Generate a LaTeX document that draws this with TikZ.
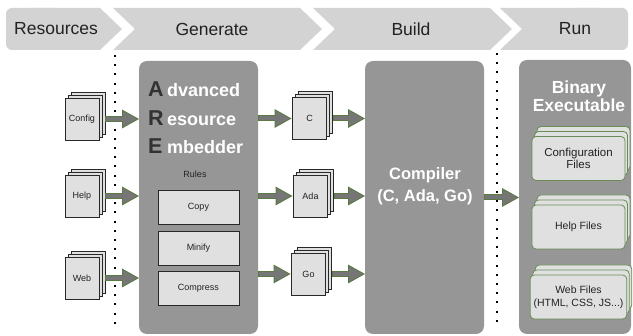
\documentclass[tikz,border=0pt]{standalone}
\usepackage{fontspec}
\setmainfont{Liberation Sans}
\usetikzlibrary{arrows.meta,shadows}

\definecolor{headgray}{RGB}{211,211,211}
\definecolor{boxgray}{RGB}{150,150,150}
\definecolor{docfill}{RGB}{224,224,224}
\definecolor{docline}{RGB}{40,40,40}
\definecolor{flowgreen}{RGB}{90,122,66}
\definecolor{flowgray}{RGB}{118,118,118}
\definecolor{filegreen}{RGB}{104,140,84}
\definecolor{textdark}{RGB}{34,34,34}
\definecolor{aredark}{RGB}{50,50,50}

\newcommand{\fsz}[1]{\fontsize{#1}{#1}\selectfont}
\newcommand{\areletter}[1]{\makebox[19pt][l]{\textcolor{aredark}{\fsz{21.5}#1}}}

\begin{document}
\begin{tikzpicture}[x=1pt, y=-1pt,
    head/.style={fill=headgray},
    headlabel/.style={font=\fsz{17.5}, text=textdark},
    doc/.style={draw=docline, fill=docfill, line width=0.8pt, minimum width=34, minimum height=42,
        inner sep=0, outer sep=0, font=\fsz{9}, text=textdark,
        double copy shadow={shadow xshift=3pt, shadow yshift=3pt, draw=docline, fill=docfill, line width=0.8pt}},
    rulebox/.style={draw=docline, fill=docfill, line width=0.8pt, minimum width=81, minimum height=34,
        font=\fsz{9}, text=textdark},
    bigbox/.style={fill=boxgray, rounded corners=8pt, inner sep=0, outer sep=0},
    arelabel/.style={font=\bfseries\fsz{18}, text=white, inner sep=0},
    binfile/.style={draw=filegreen, fill=docfill, line width=0.8pt, rounded corners=4pt,
        minimum width=93, minimum height=44, align=center, font=\fsz{10.5}, text=textdark,
        double copy shadow={shadow xshift=2.5pt, shadow yshift=5pt, draw=filegreen, fill=docfill, line width=0.8pt}},
    stage/.style={line width=2pt, dash pattern=on 2pt off 7.2pt},
    flow/.style={draw=flowgreen, line width=6pt, shorten <=#1,
        -{Triangle[length=17pt, width=19pt, line width=0pt]},
        postaction={draw=flowgray, line width=4pt, shorten <=#1+1pt, shorten >=2pt,
        -{Triangle[length=14pt, width=15.5pt, line width=0pt]}}},
    flow/.default=6pt]

    \useasboundingbox (0,0) rectangle (633,336);

    % Header
    \fill[head, rounded corners=6pt] (6,8) rectangle (60,50);
    \fill[head] (30,8) -- (100,8) -- (122,29) -- (100,50) -- (30,50) -- cycle;
    \fill[head] (113,8) -- (300,8) -- (322,29) -- (300,50) -- (113,50) -- (135,29) -- cycle;
    \fill[head] (313,8) -- (490,8) -- (512,29) -- (490,50) -- (313,50) -- (335,29) -- cycle;
    \fill[head] (500,8) -- (600,8) -- (600,50) -- (500,50) -- (522,29) -- cycle;
    \fill[head, rounded corners=6pt] (570,8) rectangle (628,50);

    \node[headlabel] (hres) at (56,29) {Resources};
    \node[headlabel] (hgen) at (212,29) {Generate};
    \node[headlabel] (hbld) at (411,29) {Build};
    \node[headlabel] (hrun) at (575,29) {Run};

    % Stage borders
    \draw[stage] (115,55) -- (115,329);
    \draw[stage] (497,53) -- (497,322);

    % Resources
    \node[doc] (cfg) at (82,119) {Config};
    \node[doc] (hlp) at (82,196) {Help};
    \node[doc] (web) at (82,278) {Web};

    % Advanced Resource Embedder
    \node[bigbox, minimum width=119, minimum height=273] (are) at (198.5,197.5) {};
    \node[arelabel, anchor=base west] (areA) at (148,97) {\areletter{A}dvanced};
    \node[arelabel, anchor=base west] (areR) at (148,126) {\areletter{R}esource};
    \node[arelabel, anchor=base west] (areE) at (148,154) {\areletter{E}mbedder};
    \node[font=\fsz{9}, text=textdark] (rules) at (195,174) {Rules};
    \node[rulebox] (copy) at (198.5,207) {Copy};
    \node[rulebox] (minify) at (198.5,248.5) {Minify};
    \node[rulebox] (compress) at (198.5,288.5) {Compress};

    % Generated sources
    \node[doc] (src c) at (309.5,118.5) {C};
    \node[doc] (src ada) at (310.5,196) {Ada};
    \node[doc] (src go) at (308.5,274) {Go};

    % Compiler
    \node[bigbox, minimum width=119, minimum height=273] (comp) at (424.5,197.5) {};
    \node[font=\bfseries\fontsize{16.5}{22}\selectfont, text=white, align=center] (complabel) at (425,186) {Compiler\\(C, Ada, Go)};

    % Binary executable
    \node[bigbox, minimum width=112, minimum height=274] (bin) at (575,197) {};
    \node[font=\bfseries\fontsize{17.5}{18.5}\selectfont, text=white, align=center] (binlabel) at (579,96) {Binary\\Executable};
    \node[binfile, font=\fsz{11.5}] (binconf) at (578.5,158.5) {Configuration\\Files};
    \node[binfile] (binhelp) at (578.5,227) {Help Files};
    \node[binfile, font=\fontsize{10.5}{13}\selectfont] (binweb) at (578.5,297) {Web Files\\(HTML, CSS, JS...)};

    % Arrows
    \draw[flow] (cfg.east) -- (cfg.east -| are.west);
    \draw[flow] (hlp.east) -- (hlp.east -| are.west);
    \draw[flow] (web.east) -- (web.east -| are.west);

    \draw[flow=0pt] (are.east |- src c.west) -- ([xshift=-1pt]src c.west);
    \draw[flow=0pt] (are.east |- src ada.west) -- ([xshift=-1pt]src ada.west);
    \draw[flow=0pt] (are.east |- src go.west) -- ([xshift=-1pt]src go.west);

    \draw[flow] (src c.east) -- (src c.east -| comp.west);
    \draw[flow] (src ada.east) -- (src ada.east -| comp.west);
    \draw[flow] (src go.east) -- (src go.east -| comp.west);

    \draw[flow=0pt] (comp.east) -- (comp.east -| bin.west);

\end{tikzpicture}
\end{document}
